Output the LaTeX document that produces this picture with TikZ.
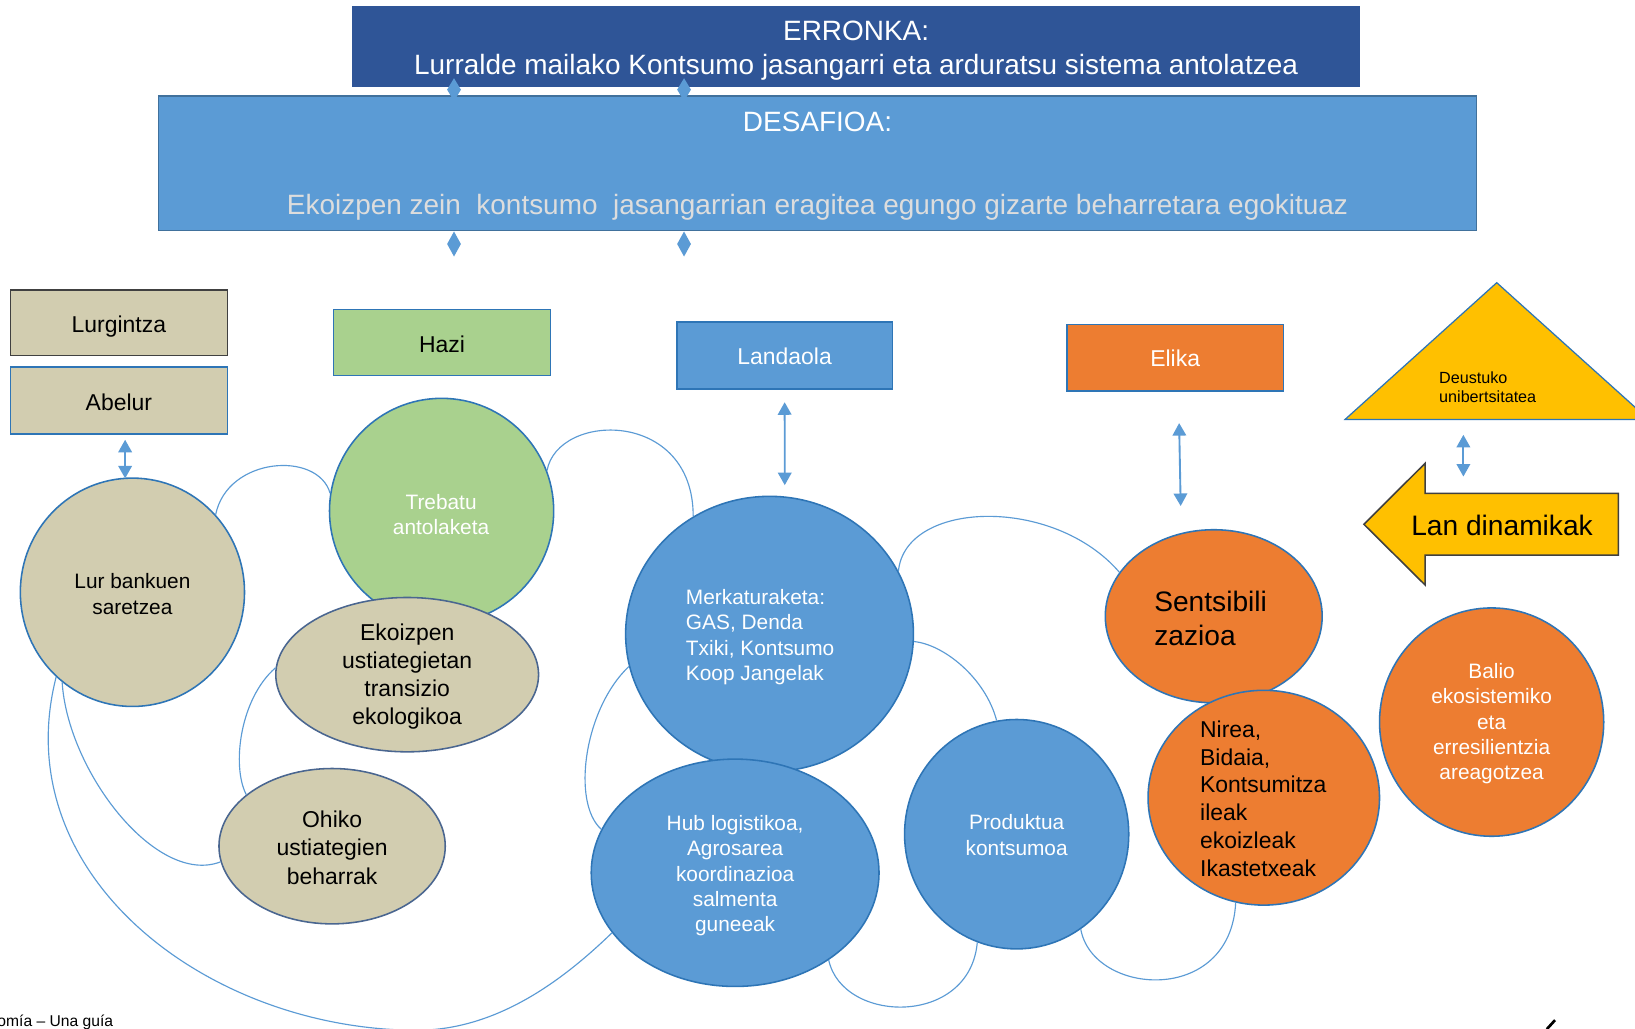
\documentclass[tikz,border=0pt]{standalone}
\usepackage{fontspec}
\setmainfont{Liberation Sans}
\usetikzlibrary{shapes.geometric,arrows.meta,calc}
\definecolor{dblue}{HTML}{2F5597}
\definecolor{mblue}{HTML}{5B9BD5}
\definecolor{bblue}{HTML}{2E75B6}
\definecolor{sblue}{HTML}{41719C}
\definecolor{ctan}{HTML}{D2CDB0}
\definecolor{cgreen}{HTML}{A9D18E}
\definecolor{corange}{HTML}{ED7D31}
\definecolor{cgold}{HTML}{FFC000}
\definecolor{slate}{HTML}{4A6690}
\definecolor{lgray}{HTML}{DDDDDD}
\definecolor{dgray}{HTML}{404040}
\newcommand\fsz[2]{\fontsize{#1}{#2}\selectfont}
\begin{document}
\begin{tikzpicture}[x=1pt,y=-1pt,
  rbox/.style={draw=bblue,line width=1.5pt,minimum width=208pt,minimum height=64pt,inner sep=0pt,font=\fsz{22}{26}},
  rtext/.style={font=\fsz{22}{26},inner sep=0pt,anchor=base},
  bub/.style={ellipse,draw=bblue,line width=1.5pt,inner sep=0pt},
  btext/.style={align=center,inner sep=0pt},
  link/.style={draw=mblue,line width=1.1pt},
  dbl/.style={draw=mblue,line width=1.8pt,{Triangle[width=13pt,length=12pt]}-{Triangle[width=13pt,length=12pt]}},
  dmd/.style={fill=mblue}
]
\useasboundingbox (0,0) rectangle (1568,986);
\clip (0,0) rectangle (1568,986);
\fill[white] (0,0) rectangle (1568,986);

% top boxes
\node[fill=dblue,minimum width=966pt,minimum height=77pt,inner sep=0pt] (erronka) at (821,44.5) {};
\node[fill=mblue,draw=sblue,line width=1.2pt,minimum width=1264pt,minimum height=129pt,inner sep=0pt] (desafio) at (784,156.5) {};
\node[anchor=base,text=white,font=\fsz{26.8}{30},inner sep=0pt] (t1) at (821,38.4) {ERRONKA:};
\node[anchor=base,text=white,font=\fsz{26.8}{30},inner sep=0pt] (t2) at (821,71) {Lurralde mailako Kontsumo jasangarri eta arduratsu sistema antolatzea};
\node[anchor=base,text=white,font=\fsz{26.8}{30},inner sep=0pt] (t3) at (784,126.3) {DESAFIOA:};
\node[anchor=base,text=lgray,font=\fsz{26.8}{30},inner sep=0pt] (t4) at (784,206) {Ekoizpen zein\ \ kontsumo\ \ jasangarrian eragitea egungo gizarte beharretara egokituaz};
\fill[dmd] (435.4,75) -- (442,86) -- (435.4,97) -- (428.8,86) -- cycle;
\fill[dmd] (656,75) -- (662.6,86) -- (656,97) -- (649.4,86) -- cycle;
\fill[dmd] (435.4,222) -- (442,234) -- (435.4,246) -- (428.8,234) -- cycle;
\fill[dmd] (656,222) -- (662.6,234) -- (656,246) -- (649.4,234) -- cycle;

% rectangles
\node[rbox,fill=ctan,draw=dgray,minimum height=63pt] (lurg) at (114,309.5) {};
\node[rbox,fill=ctan] (abel) at (114,384) {};
\node[rbox,fill=cgreen,minimum height=63pt] (hazi) at (424,328.5) {};
\node[rbox,fill=mblue,minimum width=207pt] (land) at (752.5,341) {};
\node[rbox,fill=corange] (elika) at (1127,343) {};
\node[rtext] (lurgt) at (114,319) {Lurgintza};
\node[rtext] (abelt) at (114,394) {Abelur};
\node[rtext] (hazit) at (424,338) {Hazi};
\node[rtext,text=white] (landt) at (752.5,350) {Landaola};
\node[rtext,text=white] (elikat) at (1127,351) {Elika};

% ellipses
\node[bub,fill=ctan,minimum width=215pt,minimum height=219pt] (lur) at (127,568) {};
\node[bub,fill=cgreen,minimum width=215pt,minimum height=216pt] (treb) at (423.5,490) {};
\node[bub,fill=ctan,draw=slate,minimum width=252pt,minimum height=148pt] (ekoiz) at (390.5,647) {};
\node[bub,fill=ctan,draw=slate,minimum width=217pt,minimum height=149pt] (ohiko) at (318.5,811.5) {};
\node[bub,fill=mblue,minimum width=276pt,minimum height=264pt] (merk) at (738,608) {};
\node[bub,fill=mblue,minimum width=276pt,minimum height=218pt] (hub) at (705,837) {};
\node[bub,fill=mblue,minimum width=215pt,minimum height=220pt] (prod) at (975,800) {};
\node[bub,fill=corange,minimum width=208pt,minimum height=166pt] (sents) at (1164,591) {};
\node[bub,fill=corange,minimum width=222pt,minimum height=206pt] (nirea) at (1212,765) {};
\node[bub,fill=corange,minimum width=215pt,minimum height=219pt] (balio) at (1430.5,692.5) {};

% ellipse texts
\node[btext,text=white,font=\fsz{20}{24}] (trebt) at (423,493) {Trebatu\\antolaketa};
\node[btext,font=\fsz{20}{25}] (lurt) at (127,570) {Lur bankuen\\saretzea};
\node[btext,font=\fsz{22}{27}] (ekoizt) at (390.5,649) {Ekoizpen\\ustiategietan\\transizio\\ekologikoa};
\node[btext,font=\fsz{22}{27}] (ohikot) at (318.5,813) {Ohiko\\ustiategien\\beharrak};
\node[btext,align=left,text=white,font=\fsz{20}{24.5}] (merkt) at (729,611) {Merkaturaketa:\\GAS, Denda\\Txiki, Kontsumo\\Koop Jangelak};
\node[btext,text=white,font=\fsz{20}{24.3}] (hubt) at (705,840) {Hub logistikoa,\\Agrosarea\\koordinazioa\\salmenta\\guneeak};
\node[btext,text=white,font=\fsz{20}{25}] (prodt) at (975,801) {Produktua\\kontsumoa};
\node[btext,align=left,font=\fsz{27}{32}] (sentst) at (1161,593) {Sentsibili\\zazioa};
\node[btext,align=left,font=\fsz{22}{26.8}] (nireat) at (1211.5,766) {Nirea,\\Bidaia,\\Kontsumitza\\ileak\\ekoizleak\\Ikastetxeak};
\node[btext,text=white,font=\fsz{20}{24.3}] (baliot) at (1430.5,694) {Balio\\ekosistemiko\\eta\\erresilientzia\\areagotzea};

% triangle and arrow shape
\draw[fill=cgold,draw=bblue,line width=1.2pt] (1435.4,271.1) -- (1290,402.2) -- (1581,402.2) -- cycle;
\node[btext,align=left,anchor=west,font=\fsz{15.5}{18}] (deusto) at (1380,371) {Deustuko\\unibertsitatea};
\draw[fill=cgold,draw=dgray,line width=1.5pt] (1308,502.8) -- (1366.7,444.3) -- (1366.7,473.1) -- (1552,473.1) -- (1552,532.3) -- (1366.7,532.3) -- (1366.7,561) -- cycle;
\node[btext,font=\fsz{27}{30}] (lan) at (1440.5,504) {Lan dinamikak};

% double arrows
\draw[dbl] ([xshift=6pt,yshift=-5pt]abel.south) -- ([xshift=-7pt,yshift=-1pt]lur.north);
\draw[dbl] ([yshift=-12pt]land.south) -- ([xshift=14.6pt,yshift=10pt]merk.north);
\draw[dbl] ([xshift=3.8pt,yshift=-30pt]elika.south) -- ([xshift=-31.7pt,yshift=22pt]sents.north);
\coordinate (d1) at (1403.4,417);
\coordinate (d2) at (1403.4,457);
\draw[dbl] (d1) -- (d2);

% curved links
\coordinate (low) at (400,988);
\draw[link] (lur.43) .. controls (218,438) and (305,432) .. (treb.171);
\draw[link] (treb.21) .. controls (535,395) and (665,392) .. (merk.123);
\draw[link] (lur.232) .. controls (65,740) and (150,850) .. (ohiko.188);
\draw[link] (lur.228) .. controls (5,840) and (200,988) .. (low) .. controls (480,988) and (545,935) .. (hub.206);
\draw[link] (ekoiz.177) .. controls (230,670) and (222,735) .. (ohiko.149);
\draw[link] (merk.193) .. controls (560,680) and (548,770) .. (hub.162);
\draw[link] (merk.26) .. controls (868,480) and (1010,475) .. (sents.155);
\draw[link] (merk.357) .. controls (905,618) and (945,650) .. (prod.100);
\draw[link] (hub.317) .. controls (808,982) and (930,985) .. (prod.250);
\draw[link] (prod.304) .. controls (1048,955) and (1180,965) .. (nirea.255);

% footer fragments
\node[anchor=base east,font=\fsz{15}{18},inner sep=0pt] (foot) at (108.7,984) {omía – Una guía};
\draw[line width=2.6pt] (1483.4,987) -- (1491.3,978.3);
\end{tikzpicture}
\end{document}
